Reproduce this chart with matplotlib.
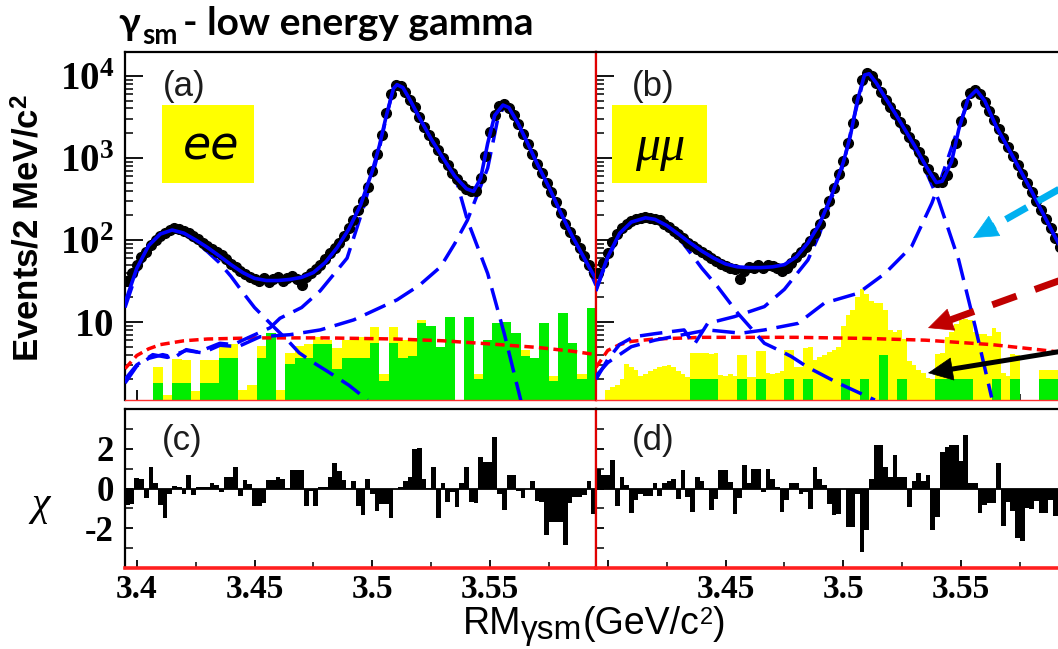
import numpy as np
import matplotlib
matplotlib.use("Agg")
import matplotlib.pyplot as plt
from matplotlib.patches import Rectangle
from matplotlib.ticker import LogLocator, NullFormatter, FixedLocator

plt.rcParams['font.family'] = ['Liberation Sans', 'DejaVu Sans']
plt.rcParams['mathtext.fontset'] = 'custom'
plt.rcParams['mathtext.rm'] = 'Liberation Serif:bold'
plt.rcParams['mathtext.it'] = 'Liberation Serif:italic'
plt.rcParams['mathtext.bf'] = 'Liberation Serif:bold'
plt.rcParams['mathtext.sf'] = 'Liberation Sans:bold'

X_LO, X_HI = 3.395, 3.595

# ---- data points, 2 MeV bins (100 per channel)
ee_counts = [32, 40, 50, 62, 72, 87, 100, 112, 123, 132,
             138, 135, 129, 120, 112, 102, 93, 85, 78, 71,
             65, 58, 51, 47, 42, 38, 35, 33, 32, 34,
             31, 33, 35, 32, 34, 36, 33, 28, 35, 40,
             44, 50, 59, 69, 79, 93, 112, 138, 174, 229,
             302, 437, 692, 1120, 1900, 3550, 6030, 7760, 7590, 6310,
             5130, 4170, 3160, 2400, 1900, 1550, 1230, 1000, 813, 661,
             550, 468, 417, 398, 398, 562, 1050, 2090, 3310, 4270,
             4470, 4070, 3310, 2570, 1950, 1480, 1120, 851, 646, 490,
             380, 288, 214, 158, 126, 100, 79, 63, 50, 40]
mumu_counts = [40, 52, 69, 95, 117, 138, 155, 170, 182, 186,
               191, 186, 182, 174, 158, 145, 129, 117, 105, 93,
               85, 78, 71, 65, 60, 55, 51, 48, 46, 44,
               33, 42, 47, 45, 49, 46, 50, 48, 45, 42,
               46, 52, 62, 71, 83, 98, 123, 158, 214, 302,
               427, 631, 912, 1510, 2630, 5250, 8910, 10700, 10000, 8130,
               6310, 5130, 4170, 3470, 2750, 2240, 1820, 1480, 1170, 933,
               724, 589, 501, 513, 617, 891, 1510, 2820, 4570, 6170,
               6760, 6030, 4790, 3720, 2880, 2240, 1740, 1350, 1050, 813,
               631, 490, 380, 295, 229, 178, 138, 107, 83, 65]

# ---- fit curves (total + three signal shapes + smooth background)
ee_fit_x = [3.395, 3.400, 3.405, 3.410, 3.415, 3.420, 3.425, 3.430, 3.435, 3.440, 3.445, 3.450,
            3.455, 3.460, 3.465, 3.470, 3.475, 3.480, 3.485, 3.490, 3.495, 3.500, 3.503, 3.506,
            3.509, 3.5105, 3.513, 3.516, 3.520, 3.525, 3.530, 3.535, 3.540, 3.543, 3.546, 3.549,
            3.552, 3.5555, 3.558, 3.562, 3.566, 3.570, 3.575, 3.580, 3.585, 3.590, 3.595]
ee_fit_y = [17, 45, 85, 118, 132, 121, 100, 81, 64, 50, 40, 34,
            32, 32, 33, 35, 40, 53, 80, 135, 265, 690, 1400, 3300,
            7000, 7800, 7200, 5100, 3100, 1700, 1000, 600, 420, 390, 560, 1500,
            3300, 4400, 4100, 2600, 1500, 850, 440, 215, 110, 60, 33]
ee_c0_x = [3.395, 3.400, 3.405, 3.410, 3.415, 3.420, 3.425, 3.430, 3.435, 3.440, 3.445, 3.450,
           3.458, 3.464, 3.469, 3.475, 3.481, 3.490, 3.498]
ee_c0_y = [15, 40, 78, 112, 130, 118, 95, 72, 53, 36, 23, 15, 8.8, 6.0, 4.2, 3.2, 2.5, 1.7, 1.12]
ee_c1_x = [3.395, 3.400, 3.405, 3.411, 3.416, 3.421, 3.426, 3.4353, 3.441, 3.4466, 3.4566, 3.4608,
           3.470, 3.4779, 3.4893, 3.4963, 3.500, 3.503, 3.506, 3.509, 3.5105, 3.513, 3.516, 3.520,
           3.525, 3.530, 3.5361, 3.5404, 3.549, 3.556, 3.5631]
ee_c1_y = [1.8, 2.9, 3.6, 4.0, 3.7, 4.6, 4.3, 5.5, 5.3, 6.3, 8.5, 11.1,
           15, 24, 60, 250, 600, 1300, 3200, 7000, 7700, 7200, 5000, 3000,
           1650, 950, 480, 174, 39, 7.3, 1.1]
ee_c2_x = [3.395, 3.400, 3.4068, 3.413, 3.421, 3.428, 3.4353, 3.443, 3.4523, 3.465, 3.4779, 3.4921,
           3.5105, 3.520, 3.529, 3.535, 3.5404, 3.545, 3.549, 3.5532, 3.556, 3.559, 3.565, 3.570,
           3.575, 3.580, 3.585, 3.590, 3.595]
ee_c2_y = [2.0, 3.0, 4.0, 3.7, 4.5, 4.2, 5.2, 5.0, 6.6, 7.0, 8.0, 10.6,
           18.6, 28, 47, 90, 174, 380, 750, 2900, 4300, 3800, 1700, 850,
           430, 215, 110, 60, 28]
ee_bkg_x = [3.395, 3.400, 3.405, 3.410, 3.420, 3.430, 3.450, 3.480, 3.510, 3.530, 3.550, 3.570, 3.585, 3.595]
ee_bkg_y = [2.7, 3.9, 4.7, 5.3, 5.9, 6.2, 6.4, 6.4, 6.2, 5.9, 5.4, 4.9, 4.4, 4.0]

mumu_fit_x = [3.395, 3.400, 3.405, 3.410, 3.416, 3.420, 3.425, 3.430, 3.435, 3.440, 3.445, 3.450,
              3.455, 3.460, 3.465, 3.470, 3.475, 3.480, 3.485, 3.490, 3.495, 3.500, 3.503, 3.506,
              3.509, 3.511, 3.514, 3.518, 3.522, 3.526, 3.530, 3.535, 3.5395, 3.542, 3.546, 3.549,
              3.553, 3.5565, 3.560, 3.565, 3.570, 3.575, 3.580, 3.585, 3.590, 3.595]
mumu_fit_y = [25, 62, 120, 165, 186, 178, 150, 118, 92, 73, 60, 51,
              47, 46, 46, 47, 50, 62, 92, 158, 345, 880, 1850, 5000,
              10200, 10600, 8200, 5300, 3500, 2250, 1450, 800, 500, 520, 900, 2200,
              5300, 6700, 5000, 2400, 1320, 720, 390, 205, 108, 58]
mumu_c0_x = [3.395, 3.400, 3.405, 3.410, 3.416, 3.420, 3.425, 3.430, 3.435, 3.440, 3.4466, 3.4552,
             3.4665, 3.4722, 3.4779, 3.485, 3.4978, 3.5134]
mumu_c0_y = [24, 60, 115, 160, 184, 175, 145, 108, 70, 45, 27, 12.8, 5.5, 4.6, 3.8, 2.8, 1.8, 1.12]
mumu_c1_x = [3.395, 3.400, 3.405, 3.411, 3.420, 3.4324, 3.4367, 3.4424, 3.4537, 3.4665, 3.475, 3.485,
             3.490, 3.495, 3.500, 3.505, 3.509, 3.5127, 3.516, 3.520, 3.525, 3.530, 3.535, 3.5404,
             3.549, 3.556, 3.563]
mumu_c1_y = [2.0, 3.5, 5.3, 6.6, 7.2, 8.0, 5.3, 9.6, 11.6, 15.4, 25, 57,
             120, 320, 820, 3500, 10000, 9700, 6000, 3800, 2200, 1300, 700, 309,
             57, 8.8, 1.2]
mumu_c2_x = [3.395, 3.400, 3.410, 3.420, 3.4424, 3.4566, 3.4665, 3.4807, 3.492, 3.5063, 3.5177, 3.529,
             3.5376, 3.5418, 3.549, 3.5535, 3.5567, 3.560, 3.565, 3.570, 3.575, 3.580, 3.585, 3.590, 3.595]
mumu_c2_y = [2.2, 3.2, 5.0, 6.0, 8.0, 7.3, 8.0, 9.6, 17, 22.4, 39, 83,
             280, 590, 2400, 5200, 6600, 4900, 2350, 1300, 700, 380, 200, 105, 55]
mumu_bkg_x = [3.395, 3.400, 3.405, 3.410, 3.420, 3.440, 3.480, 3.510, 3.535, 3.563, 3.580, 3.595]
mumu_bkg_y = [2.8, 4.5, 5.3, 5.8, 6.2, 6.5, 6.5, 6.3, 6.0, 5.3, 4.7, 4.2]

# ---- background histograms: green (4 MeV bins), yellow stacked on top
ee_green = [0, 0, 0, 1.8, 0, 1.8, 1.8, 0, 1.8, 1.8,
            3.6, 3.6, 0, 0, 3.6, 7.4, 0, 3.1, 3.6, 3.6,
            5.4, 5.4, 2.7, 3.6, 3.6, 3.6, 5.5, 1.9, 5.5, 3.6,
            3.8, 9.6, 9.0, 5.0, 11.6, 0, 11.6, 2.0, 6.0, 9.6,
            10.0, 7.3, 3.8, 3.6, 9.6, 1.9, 12.8, 5.6, 2.0, 14.7]
ee_yellow = [0, 0, 0, 1.05, 1.3, 1.7, 1.6, 1.45, 1.6, 1.6,
             1.8, 1.8, 1.5, 1.7, 1.5, 0, 1.5, 1.05, 1.5, 1.8,
             1.1, 0.6, 2.1, 2.4, 3.0, 3.0, 3.3, 0.4, 3.3, 2.4,
             2.2, 0.9, 0, 0, 0, 0, 0, 0.3, 0, 0,
             0, 0, 0.7, 0, 0, 0.3, 0, 0, 0.3, 0]
mumu_green = [0, 0, 0, 0, 0, 0, 0, 0, 0, 0,
              2, 2, 2, 0, 0, 2, 0, 2, 0, 0,
              2, 0, 2, 0, 0, 0, 2, 0, 2, 0,
              4, 0, 2, 0, 0, 0, 2, 2, 2, 2,
              0, 0, 2, 0, 2, 0, 0, 2, 2, 2]
# yellow for mumu in 2 MeV bins
mumu_yellow = [0, 0, 1.5, 1.6, 1.7, 2.0, 3.1, 2.8, 2.6, 2.2,
               2.3, 2.5, 2.7, 2.85, 2.9, 3.0, 2.8, 2.5, 2.3, 2.15,
               2.15, 2.2, 2.2, 2.15, 2.1, 2.2, 2.26, 2.2, 2.3, 2.2,
               2.0, 2.0, 2.15, 2.15, 2.4, 2.4, 2.4, 2.3, 2.4, 2.5,
               2.6, 2.6, 2.8, 2.85, 2.8, 2.9, 3.4, 3.7, 4.0, 4.3,
               4.6, 5.0, 7, 10, 14, 20, 23, 20, 18, 17,
               13, 10, 8, 7.5, 6, 4.2, 3.3, 3.0, 2.6, 2.4,
               2.1, 2.0, 2.1, 2.2, 4.5, 5.5, 7.5, 8.5, 9.0, 8.5,
               7.6, 7.2, 7.2, 6.8, 6.5, 5.5, 2.4, 2.2, 2.1, 2.0,
               0, 0, 0, 0, 0.6, 0.6, 0.6, 0.6, 0.6, 0.6]

# ---- pulls, 2 MeV bins
ee_chi = [-0.85, -0.8, 0.55, 0.5, -0.5, 1.1, 0.3, -0.85, -1.5, -0.3,
          0.15, 0.1, -0.3, 0.7, -0.35, 0.1, 0.1, 0.1, 0.3, 0.2,
          -0.2, 0.6, 0.6, 1.1, -0.4, 0.45, 0.25, -0.9, -0.9, -0.75,
          0.45, 0.45, 0.6, 0.5, 0.05, 0.95, 0.95, 0.95, -0.9, -0.15,
          -0.9, 0.1, 0.1, 0.6, 1.3, 0.9, 0.45, 0.05, 0.4, -0.9,
          -1.35, 0.5, -0.3, -1.15, -0.8, -0.8, -1.5, -0.05, 0.1, 0.4,
          0.6, 2.0, 2.05, 0.5, 0.05, 1.1, -1.5, 0.3, -0.7, -0.2,
          -0.95, 0.3, 1.1, -0.7, -0.75, 1.6, 1.35, 1.35, 2.6, -0.3,
          -1.1, 0.7, 0.7, -0.15, -0.5, 0.0, 0.4, -0.65, -0.7, -2.35,
          -1.7, -1.7, -1.7, -2.85, -0.75, -0.45, -0.45, -0.35, 0.4, -1.3]
mumu_chi = [1.0, 0.7, 0.7, 1.45, -0.9, 0.6, 0.2, -1.25, -0.6, -0.3,
            -0.4, -0.4, 0.3, -0.4, 0.3, 0.4, 0.5, -0.55, 0.95, -0.45,
            -1.2, 0.6, 0.4, -0.1, -1.1, -0.55, 0.95, 0.95, 0.35, -1.3,
            -0.5, 1.2, 0.3, 1.0, 1.0, -0.2, 1.0, 0.5, 0.1, -1.2,
            -0.6, 0.3, 0.3, -0.3, -0.2, -1.05, 1.1, 0.5, 0.2, -0.8,
            -1.35, -1.3, -0.05, -1.95, -1.95, -0.3, -3.2, -2.1, 0.5, 2.2,
            2.2, 1.1, 0.6, 1.7, 0.6, 0.6, -0.95, 0.4, 0.8, 0.4,
            0.7, -2.1, -1.45, 1.85, 2.1, 2.2, 2.2, 1.4, 2.7, 0.3,
            0.3, -1.25, -0.85, -0.75, -0.75, 1.3, -1.9, -0.7, -1.15, -2.5,
            -2.65, -1.0, -1.05, -0.65, -1.25, -1.25, -0.6, -1.4, -0.3, -0.5]

x_ticks = [3.4, 3.45, 3.5, 3.55]
x_minor = [3.425, 3.475, 3.525, 3.575]

W, H = 1058.0, 649.0
fig = plt.figure(figsize=(W / 100, H / 100), dpi=100)


def px_box(x0, y0, x1, y1):
    return [x0 / W, 1 - y1 / H, (x1 - x0) / W, (y1 - y0) / H]


ax_a = fig.add_axes(px_box(125, 52, 596, 400))
ax_b = fig.add_axes(px_box(596, 52, 1067, 400))
ax_c = fig.add_axes(px_box(125, 409, 596, 568))
ax_d = fig.add_axes(px_box(596, 409, 1067, 568))

BLUE = '#0000ff'
SERIF = dict(fontfamily='Liberation Serif', fontweight='bold')


def draw_top(ax, counts, green, yellow, fit, comps, bkg, first):
    edges2 = np.linspace(X_LO, X_HI, 101)
    edges4 = np.linspace(X_LO, X_HI, 51)
    green = np.asarray(green, float)
    yellow = np.asarray(yellow, float)
    rep = len(yellow) // len(green)
    y_edges = edges2 if rep == 2 else edges4
    ax.stairs(np.repeat(green, rep) + yellow, y_edges, baseline=0.5, fill=True,
              color='#ffff00', lw=0, zorder=1)
    ax.stairs(green, edges4, baseline=0.5, fill=True, color='#00ee00', lw=0, zorder=1.1)
    ax.plot(bkg[0], bkg[1], color='#ff0000', lw=2.5, dashes=(2.7, 1.5), zorder=3)
    for cx, cy in comps:
        ax.plot(cx, cy, color=BLUE, lw=2.5, dashes=(6.5, 2.8), zorder=3)
    centers = edges2[:-1] + 0.001
    ax.plot(centers, counts, 'o', color='black', ms=7, zorder=4)
    ax.plot(fit[0], fit[1], color=BLUE, lw=2.6, zorder=5)

    ax.set_yscale('log')
    ax.set_xlim(X_LO, X_HI)
    ax.set_ylim(1.12, 19500)
    ax.set_axisbelow(True)
    ax.yaxis.set_major_locator(FixedLocator([10, 100, 1000, 10000]))
    ax.yaxis.set_minor_locator(LogLocator(base=10, subs=np.arange(2, 10)))
    ax.yaxis.set_minor_formatter(NullFormatter())
    if first:
        ax.set_yticklabels([r'$10$', r'$10^{2}$', r'$10^{3}$', r'$10^{4}$'])
    else:
        ax.set_yticklabels([])
    ax.set_xticks(x_ticks, [])
    ax.set_xticks(x_minor, minor=True)
    ax.tick_params(axis='y', which='major', direction='in', length=13, width=1.3,
                   labelsize=28, pad=8)
    ax.tick_params(axis='y', which='minor', direction='in', length=6, width=1.1)
    ax.tick_params(axis='x', which='major', direction='in', length=7, width=1.3)
    ax.tick_params(axis='x', which='minor', direction='in', length=4, width=1.1)
    for s in ax.spines.values():
        s.set_linewidth(1.6)
    ax.spines['bottom'].set_color('#ff3030')
    ax.spines['bottom'].set_linewidth(1.0)


def draw_chi(ax, chi, first):
    edges2 = np.linspace(X_LO, X_HI, 101)
    ax.stairs(chi, edges2, baseline=0, fill=True, color='black', lw=0)
    ax.axhline(0, color='black', lw=1.3)
    ax.set_xlim(X_LO, X_HI)
    ax.set_ylim(-4, 4)
    ax.set_yticks([-2, 0, 2], ['-2', '0', '2'] if first else ['', '', ''], **SERIF)
    ax.set_yticks([-3, -1, 1, 3], minor=True)
    labels = ['3.4', '3.45', '3.5', '3.55'] if first else ['', '3.45', '3.5', '3.55']
    ax.set_xticks(x_ticks, labels, **SERIF)
    ax.set_xticks(x_minor, minor=True)
    ax.tick_params(axis='both', which='major', direction='in', length=6, width=1.3,
                   labelsize=24)
    ax.tick_params(axis='y', which='major', pad=8, labelsize=25)
    ax.tick_params(axis='x', which='major', pad=4)
    ax.tick_params(axis='both', which='minor', direction='in', length=4, width=1.1)
    ax.tick_params(axis='y', which='minor', length=6)
    for s in ax.spines.values():
        s.set_linewidth(1.6)
    ax.spines['bottom'].set_color('#ff2020')
    ax.spines['bottom'].set_linewidth(2.6)


draw_top(ax_a, ee_counts, ee_green, ee_yellow, (ee_fit_x, ee_fit_y),
         [(ee_c0_x, ee_c0_y), (ee_c1_x, ee_c1_y), (ee_c2_x, ee_c2_y)],
         (ee_bkg_x, ee_bkg_y), True)
draw_top(ax_b, mumu_counts, mumu_green, mumu_yellow, (mumu_fit_x, mumu_fit_y),
         [(mumu_c0_x, mumu_c0_y), (mumu_c1_x, mumu_c1_y), (mumu_c2_x, mumu_c2_y)],
         (mumu_bkg_x, mumu_bkg_y), False)
draw_chi(ax_c, ee_chi, True)
draw_chi(ax_d, mumu_chi, False)

# red divider between the two channels
for ax in (ax_a, ax_c):
    ax.spines['right'].set_color('#e00000')
for ax in (ax_b, ax_d):
    ax.spines['left'].set_color('#e00000')

# ---- overlay in pixel coordinates for labels, boxes and arrows
ov = fig.add_axes([0, 0, 1, 1], zorder=10)
ov.set_xlim(0, W)
ov.set_ylim(H, 0)
ov.axis('off')
ov.patch.set_alpha(0)

TITLE_FONT = ['Lato', 'DejaVu Sans']
ov.text(118, 35, 'γ', fontsize=28, fontweight='bold', family=TITLE_FONT, va='baseline')
ov.text(142, 44, 'sm', fontsize=20, fontweight='bold', family=TITLE_FONT, va='baseline')
ov.text(183, 35, '- low energy gamma', fontsize=28, fontweight='bold',
        family=TITLE_FONT, va='baseline')

ov.text(30, 228, r'Events/2 MeV/c$^{\mathsf{2}}$', rotation=90, fontsize=25,
        fontweight='bold', ha='center', va='center')
ov.text(41, 505, 'χ', fontsize=30, family='Liberation Serif', style='italic',
        ha='center', va='center')

# x-axis title built from pieces: RM, lowered γsm, (GeV/c, raised 2, )
renderer = fig.canvas.get_renderer()
pieces = [('RM', 27, 0), ('γsm', 24, 5), ('(GeV/c', 27, 0), ('2', 17, -10), (')', 27, 0)]
texts = []
widths = []
for s, size, dy in pieces:
    t = ov.text(0, 634 + dy, s, fontsize=size, va='baseline', ha='left')
    texts.append(t)
    widths.append(t.get_window_extent(renderer).width)
xpos = 594 - sum(widths) / 2
for t, w in zip(texts, widths):
    t.set_x(xpos)
    xpos += w

for x, y, s in [(163, 96, '(a)'), (632, 96, '(b)'), (162, 450, '(c)'), (632, 450, '(d)')]:
    ov.text(x, y, s, fontsize=25, color='#1c1c1c', va='baseline')

ov.add_patch(Rectangle((162, 105), 92, 78, color='#ffff00', lw=0))
ov.add_patch(Rectangle((612, 105), 95, 78, color='#ffff00', lw=0))
ov.text(211, 160, 'ee', fontsize=33, family='DejaVu Sans', style='italic',
        ha='center', va='baseline')
ov.text(660, 160, 'μμ', fontsize=36, family='Liberation Serif', style='italic',
        ha='center', va='baseline')


def arrow(start, tip, color, lw, dashes):
    start = np.array(start, float)
    tip = np.array(tip, float)
    d = (tip - start) / np.linalg.norm(tip - start)
    base = tip - d * 22
    kw = dict(color=color, lw=lw, solid_capstyle='butt', dash_capstyle='butt')
    if dashes:
        kw['dashes'] = dashes
    ov.plot([start[0], base[0]], [start[1], base[1]], **kw)
    ov.annotate('', xy=tip, xytext=base,
                arrowprops=dict(arrowstyle='-|>,head_length=1.7,head_width=0.8',
                                color=color, lw=0.5, shrinkA=0, shrinkB=0))


arrow((1100, 166), (973, 238), '#00b0f0', 5, (3.5, 1.8))
arrow((1100, 266), (928, 328), '#c00000', 5, (3.7, 2.8))
arrow((1100, 345), (928, 373), 'black', 3.6, None)

fig.savefig('out.png', dpi=100)
